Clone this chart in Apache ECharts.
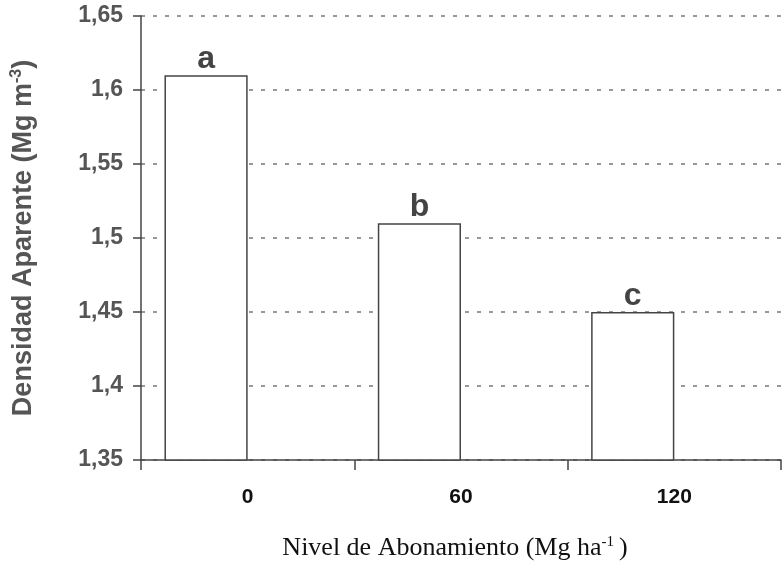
<!DOCTYPE html>
<html><head><meta charset="utf-8">
<script src="https://cdn.jsdelivr.net/npm/echarts@6/dist/echarts.min.js"></script>
<style>html,body{margin:0;padding:0;background:#fff}#c{width:783px;height:567px}</style>
</head><body><div id="c"></div>
<script>
const categories = ['0', '60', '120'];
const densidad = [1.61, 1.51, 1.45];
const letras = ['a', 'b', 'c'];
const yTicks = [1.35, 1.4, 1.45, 1.5, 1.55, 1.6, 1.65];

const chart = echarts.init(document.getElementById('c'));
chart.setOption({
  backgroundColor: '#ffffff',
  animation: false,
  grid: { left: 141, right: 2, top: 16, bottom: 107 },
  xAxis: {
    type: 'category',
    data: categories,
    name: '{t|Nivel de Abonamiento (Mg ha}{s|-1}{t|)}',
    nameLocation: 'middle',
    nameGap: 75,
    nameTextStyle: {
      padding: [0, 12, 0, 0],
      rich: {
        t: { fontFamily: 'Liberation Serif', fontSize: 26, color: '#111' },
        s: { fontFamily: 'Liberation Serif', fontSize: 15, color: '#111', verticalAlign: 'top', padding: [0, 5, 12, 0] }
      }
    },
    axisLine: { lineStyle: { color: '#444', width: 1.5 } },
    axisTick: { show: true, length: 10, alignWithLabel: false, lineStyle: { color: '#444', width: 1.5 } },
    axisLabel: { margin: 27, fontFamily: 'Liberation Sans', fontWeight: 'bold', fontSize: 21, color: '#111' }
  },
  yAxis: {
    type: 'value',
    min: 1.35, max: 1.65, interval: 0.05,
    name: '{t|Densidad Aparente (Mg m}{s|-3}{t|)}',
    nameLocation: 'middle',
    nameGap: 103,
    nameRotate: 90,
    nameTextStyle: {
      rich: {
        t: { fontFamily: 'Liberation Sans', fontWeight: 'bold', fontSize: 27, color: '#555' },
        s: { fontFamily: 'Liberation Sans', fontWeight: 'bold', fontSize: 16, color: '#555', verticalAlign: 'top', padding: [0, 0, 13, 0] }
      }
    },
    axisLine: { show: true, lineStyle: { color: '#444', width: 1.5 } },
    axisTick: { show: true, length: 8, inside: false, lineStyle: { color: '#444', width: 1.5 } },
    axisLabel: {
      margin: 18, fontFamily: 'Liberation Sans', fontWeight: 'bold', fontSize: 23, color: '#555',
      formatter: v => {
        const t = yTicks.find(x => Math.abs(x - v) < 1e-9);
        return String(t !== undefined ? t : v).replace('.', ',');
      }
    },
    splitLine: { show: true, lineStyle: { color: '#777', width: 1.5, type: [4, 8] } }
  },
  series: [
    {
      type: 'bar',
      data: densidad,
      barGap: '0%',
      barCategoryGap: '22%',
      itemStyle: { color: '#ffffff', borderColor: '#444', borderWidth: 1.5 },
      label: {
        show: true, position: 'top', distance: 0,
        fontFamily: 'Liberation Sans', fontWeight: 'bold', fontSize: 32, color: '#444',
        formatter: p => letras[p.dataIndex]
      }
    },
    {
      type: 'bar',
      data: categories.map(() => null),
      barGap: '0%',
      barCategoryGap: '22%'
    }
  ]
});
</script></body></html>
